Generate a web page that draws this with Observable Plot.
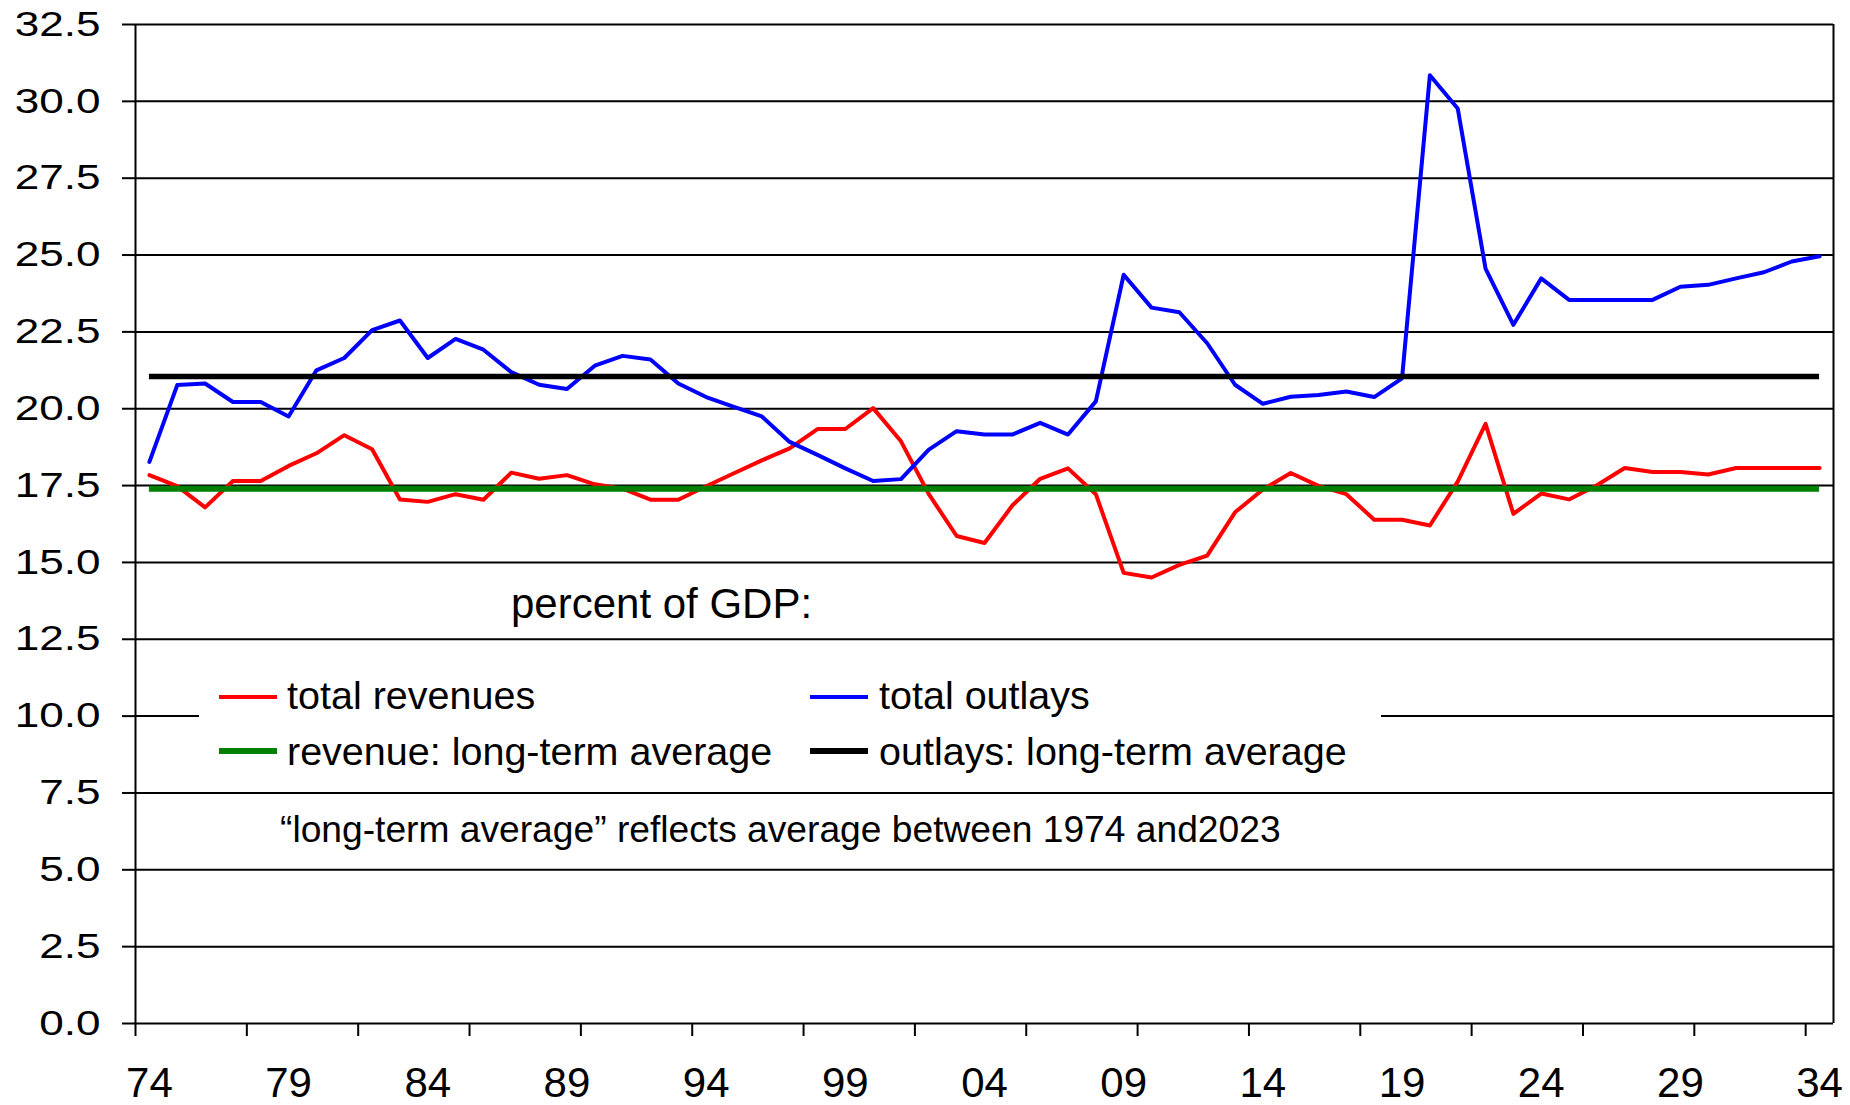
<!DOCTYPE html>
<html>
<head>
<meta charset="utf-8">
<script src="https://cdn.jsdelivr.net/npm/d3@7"></script>
<script src="https://cdn.jsdelivr.net/npm/@observablehq/plot@0.6"></script>
<style>
  body { margin: 0; background: #fff; font-family: "Liberation Sans", Arial, sans-serif; }
  #wrap { position: relative; width: 1850px; height: 1105px; }
  .ov { position: absolute; line-height: 1; white-space: nowrap; color: #000; font-family: "Liberation Sans", Arial, sans-serif; }
  .sw { position: absolute; }
</style>
</head>
<body>
<div id="wrap"></div>
<script>
// ---- data (percent of GDP) ----
const years = [
  1974,1975,1976,1977,1978,1979,1980,1981,1982,1983,1984,1985,1986,1987,1988,1989,
  1990,1991,1992,1993,1994,1995,1996,1997,1998,1999,2000,2001,2002,2003,2004,2005,
  2006,2007,2008,2009,2010,2011,2012,2013,2014,2015,2016,2017,2018,2019,2020,2021,
  2022,2023,2024,2025,2026,2027,2028,2029,2030,2031,2032,2033,2034
];
const revenues = [
  17.84,17.48,16.79,17.65,17.65,18.14,18.55,19.14,18.68,17.05,16.97,17.22,17.04,17.92,17.72,17.84,
  17.54,17.40,17.04,17.04,17.48,17.90,18.32,18.71,19.34,19.34,20.02,18.94,17.22,15.86,15.63,16.85,
  17.72,18.06,17.22,14.66,14.51,14.92,15.22,16.63,17.37,17.91,17.49,17.22,16.39,16.39,16.20,17.63,
  19.51,16.58,17.24,17.05,17.51,18.07,17.94,17.94,17.86,18.07,18.07,18.07,18.07
];
const outlays = [
  18.27,20.77,20.82,20.22,20.22,19.75,21.25,21.65,22.56,22.87,21.65,22.27,21.92,21.19,20.78,20.64,
  21.40,21.72,21.60,20.82,20.38,20.06,19.75,18.92,18.50,18.06,17.65,17.71,18.67,19.27,19.16,19.16,
  19.54,19.16,20.24,24.36,23.29,23.14,22.13,20.78,20.16,20.39,20.45,20.56,20.38,20.99,30.85,29.77,
  24.56,22.73,24.24,23.54,23.54,23.54,23.54,23.97,24.03,24.24,24.44,24.79,24.96
];
const revenueAverage = 17.40;
const outlaysAverage = 21.05;

// ---- axes ----
const yTicks = [0, 2.5, 5, 7.5, 10, 12.5, 15, 17.5, 20, 22.5, 25, 27.5, 30, 32.5];
const xLabelYears = [1974,1979,1984,1989,1994,1999,2004,2009,2014,2019,2024,2029,2034];
const xTickBoundaries = [1973.5,1977.5,1981.5,1985.5,1989.5,1993.5,1997.5,2001.5,2005.5,2009.5,2013.5,2017.5,2021.5,2025.5,2029.5,2033.5];
const xDomain = [1973.5, 2034.5];

// ---- legend / annotations ----
const legendItems = [
  {label: "total revenues", color: "#ff0000", thick: 4, col: 0, row: 0},
  {label: "total outlays", color: "#0000ff", thick: 4, col: 1, row: 0},
  {label: "revenue: long-term average", color: "#008000", thick: 6, col: 0, row: 1},
  {label: "outlays: long-term average", color: "#000000", thick: 6, col: 1, row: 1}
];
const unitNote = "percent of GDP:";
const averageNote = "\u201Clong-term average\u201D reflects average between 1974 and2023";

const rev = years.map((y, i) => ({year: y, value: revenues[i]}));
const out = years.map((y, i) => ({year: y, value: outlays[i]}));

const chart = Plot.plot({
  width: 1850,
  height: 1105,
  marginLeft: 135,
  marginRight: 17,
  marginTop: 24,
  marginBottom: 82,
  style: {fontFamily: "Liberation Sans, Arial, sans-serif", color: "#000", background: "#fff"},
  x: {domain: xDomain, axis: null},
  y: {domain: [0, 32.5], axis: null},
  marks: [
    Plot.ruleY(yTicks, {stroke: "#000", strokeWidth: 2}),
    Plot.ruleX(xDomain, {stroke: "#000", strokeWidth: 2}),
    Plot.axisY({ticks: yTicks, label: null, tickFormat: d3.format(".1f"), tickSize: 13, tickPadding: 22, fontSize: 35, stroke: "#000", strokeWidth: 2}),
    Plot.axisX({ticks: xTickBoundaries, label: null, tickSize: 13, tickFormat: () => "", stroke: "#000", strokeWidth: 2}),
    Plot.axisX({ticks: xLabelYears, label: null, tickSize: 0, tickPadding: 44, fontSize: 42, tickFormat: d => String(d % 100).padStart(2, "0")}),
    Plot.line(rev, {x: "year", y: "value", stroke: "#ff0000", strokeWidth: 4}),
    Plot.line(out, {x: "year", y: "value", stroke: "#0000ff", strokeWidth: 4}),
    Plot.ruleY([revenueAverage], {x1: years[0], x2: years[years.length - 1], stroke: "#008000", strokeWidth: 6, strokeLinecap: "butt"}),
    Plot.ruleY([outlaysAverage], {x1: years[0], x2: years[years.length - 1], stroke: "#000000", strokeWidth: 5.5, strokeLinecap: "butt"})
  ]
});

const wrap = document.getElementById("wrap");
wrap.appendChild(chart);

// widen y tick labels like the reference
chart.querySelectorAll("text").forEach(t => {
  if (/^\d+\.\d$/.test(t.textContent.trim())) {
    const w = t.getComputedTextLength();
    t.setAttribute("textLength", (w * 1.26).toFixed(1));
    t.setAttribute("lengthAdjust", "spacingAndGlyphs");
  }
});

// overlays: legend box and notes
function addText(txt, left, baseline, fs) {
  const d = document.createElement("div");
  d.className = "ov";
  d.style.left = left + "px";
  d.style.top = (baseline - 0.8465 * fs) + "px";
  d.style.fontSize = fs + "px";
  d.textContent = txt;
  wrap.appendChild(d);
  return d;
}
addText(unitNote, 511, 619, 42);

const box = document.createElement("div");
box.style.cssText = "position:absolute;left:199px;top:652px;width:1182px;height:126px;background:#fff;";
wrap.appendChild(box);

const colSwatch = [219, 810], colText = [287, 879];
const rowMid = [697, 751], rowBase = [709, 765];
legendItems.forEach(it => {
  const s = document.createElement("div");
  s.className = "sw";
  s.style.left = colSwatch[it.col] + "px";
  s.style.width = "58px";
  s.style.top = (rowMid[it.row] - it.thick / 2) + "px";
  s.style.height = it.thick + "px";
  s.style.background = it.color;
  wrap.appendChild(s);
  addText(it.label, colText[it.col], rowBase[it.row], 39.5);
});

addText(averageNote, 280, 842, 37.2);
</script>
</body>
</html>
